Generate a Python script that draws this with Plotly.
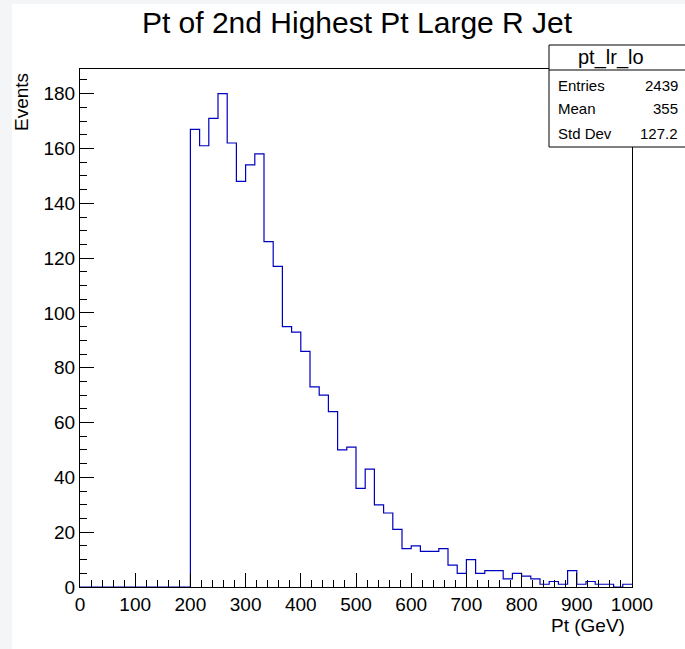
import plotly.graph_objects as go

# Histogram definition: 60 bins from 0 to 1000 GeV
x_min, x_max, n_bins = 0, 1000, 60
counts = [0] * 12 + [
    167, 161, 171, 180, 162, 148, 154, 158, 126, 117,
    95, 93, 86, 73, 70, 64, 50, 51, 36, 43,
    30, 27, 21, 14, 15, 13, 13, 14, 8, 5,
    10, 5, 6, 6, 3, 5, 4, 3, 1, 2,
    1, 6, 1, 2, 1, 1, 0, 1,
]
hist_name = "pt_lr_lo"
stat_labels = ["Entries", "Mean", "Std Dev"]
stat_values = ["2439", "355", "127.2"]
x_ticks = [0, 100, 200, 300, 400, 500, 600, 700, 800, 900, 1000]
y_ticks = [0, 20, 40, 60, 80, 100, 120, 140, 160, 180]

bw = (x_max - x_min) / n_bins
edges = [x_min + i * bw for i in range(n_bins + 1)]
step_y = counts + [counts[-1]]

W, H = 685, 649
L, R, T, B = 80, 53, 69, 62
pw, ph = W - L - R, H - T - B


def px(xp):
    return (xp - L) / pw


def py(yp):
    return (H - B - yp) / ph


FONT = "Liberation Sans, Arial, Helvetica, sans-serif"

fig = go.Figure()
fig.add_trace(go.Scatter(
    x=edges, y=step_y, mode="lines", line_shape="hv",
    line=dict(color="#0000c0", width=1.2), hoverinfo="skip", showlegend=False,
))

axis_common = dict(
    showgrid=False, zeroline=False, showline=True, linecolor="black", linewidth=1,
    mirror=True, ticks="inside", tickcolor="black", tickwidth=1, ticklen=14,
    tickfont=dict(family=FONT, size=19, color="black"),
)
fig.update_xaxes(range=[x_min, x_max], tickvals=x_ticks,
                 minor=dict(dtick=20, ticks="inside", ticklen=7, tickcolor="black"),
                 **axis_common)
fig.update_yaxes(range=[0, 189], tickvals=y_ticks,
                 minor=dict(dtick=5, ticks="inside", ticklen=7, tickcolor="black"),
                 **axis_common)

shapes = [
    # page strip / white canvas
    dict(type="rect", xref="paper", yref="paper", x0=px(12), x1=px(690), y0=py(655), y1=py(4),
         fillcolor="white", line=dict(width=0), layer="below"),
    # stats box
    dict(type="rect", xref="paper", yref="paper", x0=px(549), x1=px(690), y0=py(147), y1=py(45),
         fillcolor="white", line=dict(color="black", width=1), layer="above"),
    dict(type="line", xref="paper", yref="paper", x0=px(549), x1=px(690), y0=py(70), y1=py(70),
         line=dict(color="black", width=1), layer="above"),
]

annotations = [
    dict(text="Events", xref="paper", yref="paper", x=px(21), y=py(102), textangle=-90,
         showarrow=False, xanchor="center", yanchor="middle",
         font=dict(family=FONT, size=19, color="black")),
    dict(text="Pt (GeV)", xref="paper", yref="paper", x=px(627), y=py(625),
         showarrow=False, xanchor="right", yanchor="middle",
         font=dict(family=FONT, size=19, color="black")),
    dict(text=hist_name, xref="paper", yref="paper", x=px(611), y=py(57),
         showarrow=False, xanchor="center", yanchor="middle",
         font=dict(family=FONT, size=20, color="black")),
]
row_y = [85, 109, 133]
for lab, val, yy in zip(stat_labels, stat_values, row_y):
    annotations.append(dict(text=lab, xref="paper", yref="paper", x=px(556), y=py(yy),
                            showarrow=False, xanchor="left", yanchor="middle",
                            font=dict(family=FONT, size=15, color="black")))
    annotations.append(dict(text=val, xref="paper", yref="paper", x=px(680), y=py(yy),
                            showarrow=False, xanchor="right", yanchor="middle",
                            font=dict(family=FONT, size=15, color="black")))

fig.update_layout(
    width=W, height=H, margin=dict(l=L, r=R, t=T, b=B),
    paper_bgcolor="#f4f5f7", plot_bgcolor="white",
    title=dict(text="Pt of 2nd Highest Pt Large R Jet", x=px(357), xref="paper",
               y=1 - 22 / H, yref="container", xanchor="center", yanchor="middle",
               font=dict(family=FONT, size=30, color="black")),
    shapes=shapes, annotations=annotations,
)

fig.write_html("out.html")
